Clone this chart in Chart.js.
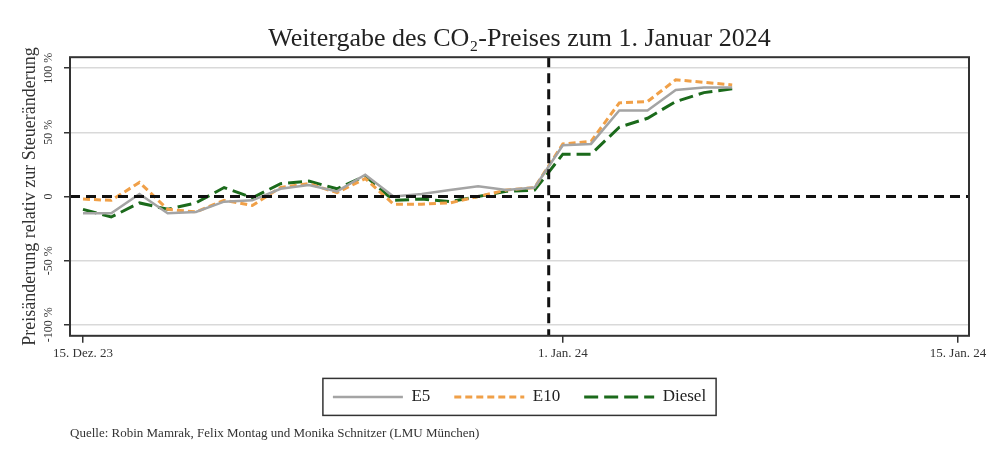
<!DOCTYPE html>
<html>
<head>
<meta charset="utf-8">
<script src="https://cdn.jsdelivr.net/npm/chart.js@4"></script>
<style>
  html, body { margin: 0; padding: 0; background: #fff; }
  #wrap { width: 990px; height: 464px; }
</style>
</head>
<body>
<div id="wrap"><canvas id="myChart"></canvas></div>
<script>
// days since 15 Dec 2023 (one point per day)
const days = ["15.12.", "16.12.", "17.12.", "18.12.", "19.12.", "20.12.", "21.12.", "22.12.",
  "23.12.", "24.12.", "25.12.", "26.12.", "27.12.", "28.12.", "29.12.", "30.12.", "31.12.",
  "01.01.", "02.01.", "03.01.", "04.01.", "05.01.", "06.01.", "07.01."];

const e5 = [-13, -13, 2, -13, -12, -4, -3, 6, 9, 4, 17, 0, 2, 5, 8, 5, 7, 40, 41, 67, 67, 83, 85, 85];
const e10 = [-2, -3, 11, -10, -12, -3, -7, 7, 10, 3, 14, -6, -6, -5, 0, 5, 7, 41, 43, 73, 74, 91, 89, 87];
const diesel = [-10, -16, -5, -10, -5, 7, -1, 10, 12, 6, 16, -3, -2, -4, 0, 4, 5, 33, 33, 54, 61, 74, 81, 84];

const xTickDays = [0, 17, 31];
const xTickLabels = ["15. Dez. 23", "1. Jan. 24", "15. Jan. 24"];
const yTickValues = [-100, -50, 0, 50, 100];
const yTickLabels = ["-100 %", "-50 %", "0", "50 %", "100 %"];

const changeDay = 16.5; // tax change between 31 Dec and 1 Jan
const zeroLine = 0;

const serif = "'Liberation Serif', 'DejaVu Serif', serif";

const toPoints = (arr) => arr.map((v, i) => ({ x: i, y: v }));

// reference lines + frame
const refLines = {
  id: "refLines",
  afterDatasetsDraw(chart) {
    const { ctx, chartArea, scales } = chart;
    ctx.save();
    ctx.strokeStyle = "#111";
    ctx.lineWidth = 3;
    ctx.setLineDash([10, 6]);
    const y0 = scales.y.getPixelForValue(zeroLine);
    ctx.beginPath();
    ctx.moveTo(chartArea.left, y0);
    ctx.lineTo(chartArea.right, y0);
    ctx.stroke();
    const xc = scales.x.getPixelForValue(changeDay);
    ctx.beginPath();
    ctx.moveTo(xc, chartArea.top);
    ctx.lineTo(xc, chartArea.bottom);
    ctx.stroke();
    ctx.restore();
  },
  afterDraw(chart) {
    const { ctx, chartArea } = chart;
    ctx.save();
    ctx.strokeStyle = "#333";
    ctx.lineWidth = 2;
    ctx.strokeRect(chartArea.left, chartArea.top, chartArea.right - chartArea.left, chartArea.bottom - chartArea.top);
    // box round the legend
    const boxes = chart.legend.legendHitBoxes;
    if (boxes && boxes.length) {
      const l = Math.min(...boxes.map((b) => b.left)) - 10;
      const r = Math.max(...boxes.map((b) => b.left + b.width)) + 10;
      const t = Math.min(...boxes.map((b) => b.top)) - 10;
      const bt = Math.max(...boxes.map((b) => b.top + b.height)) + 10;
      ctx.lineWidth = 1.5;
      ctx.strokeRect(l, t, r - l, bt - t);
    }
    ctx.restore();
  },
};

const ctx = document.getElementById("myChart");
new Chart(ctx, {
  type: "line",
  data: {
    datasets: [
      { label: "E5", data: toPoints(e5), borderColor: "#a4a4a4", borderWidth: 2.5 },
      { label: "E10", data: toPoints(e10), borderColor: "#f0a048", borderWidth: 3, borderDash: [7, 4] },
      { label: "Diesel", data: toPoints(diesel), borderColor: "#1b6a1b", borderWidth: 3, borderDash: [14, 6] },
    ],
  },
  options: {
    responsive: true,
    maintainAspectRatio: false,
    animation: false,
    layout: { padding: { top: 24, left: 0, right: 21, bottom: 23 } },
    elements: {
      point: { radius: 0, pointStyle: "line" },
      line: { tension: 0, fill: false },
    },
    scales: {
      x: {
        type: "linear",
        min: -0.46,
        max: 31.39,
        afterBuildTicks: (axis) => {
          axis.ticks = xTickDays.map((v) => ({ value: v }));
        },
        afterFit: (axis) => {
          axis.paddingLeft = 0;
          axis.paddingRight = 0;
        },
        ticks: {
          autoSkip: false,
          maxRotation: 0,
          padding: 3,
          color: "#333",
          font: { family: serif, size: 13 },
          callback: (v) => xTickLabels[xTickDays.indexOf(v)],
        },
        grid: { drawOnChartArea: false, tickLength: 7, tickColor: "#333", lineWidth: 1.5 },
        border: { display: false },
      },
      y: {
        min: -108.6,
        max: 108.6,
        afterBuildTicks: (axis) => {
          axis.ticks = yTickValues.map((v) => ({ value: v }));
        },
        afterFit: (axis) => {
          axis.width = 70;
          axis.paddingTop = 0;
          axis.paddingBottom = 0;
        },
        ticks: {
          minRotation: 90,
          maxRotation: 90,
          crossAlign: "center",
          padding: -2,
          color: "#333",
          font: { family: serif, size: 12 },
          callback: (v) => yTickLabels[yTickValues.indexOf(v)],
        },
        grid: {
          color: (c) => (c.tick && c.tick.value === 0 ? "rgba(0,0,0,0)" : "#d9d9d9"),
          lineWidth: 1.5,
          tickLength: 6,
          tickColor: "#333",
        },
        border: { display: false },
        title: {
          display: true,
          text: "Preisänderung relativ zur Steueränderung",
          color: "#333",
          font: { family: serif, size: 18 },
          padding: { top: 19, bottom: 0 },
        },
      },
    },
    plugins: {
      title: {
        display: true,
        fullSize: false,
        text: "Weitergabe des CO₂-Preises zum 1. Januar 2024",
        color: "#222",
        font: { family: serif, size: 26, weight: "normal" },
        padding: { top: 0, bottom: 2 },
      },
      subtitle: {
        display: true,
        position: "bottom",
        align: "start",
        fullSize: false,
        text: "Quelle: Robin Mamrak, Felix Montag und Monika Schnitzer (LMU München)",
        color: "#333",
        font: { family: serif, size: 13 },
        padding: { top: 10, bottom: 0 },
      },
      legend: {
        position: "bottom",
        fullSize: false,
        labels: {
          usePointStyle: true,
          pointStyleWidth: 70,
          boxHeight: 17,
          padding: 24,
          color: "#222",
          font: { family: serif, size: 17 },
          // point style legend ignores the line dash, take it from the dataset
          generateLabels: (chart) =>
            Chart.defaults.plugins.legend.labels.generateLabels(chart).map((item, i) => ({
              ...item,
              lineDash: chart.data.datasets[i].borderDash || [],
              lineWidth: chart.data.datasets[i].borderWidth,
            })),
        },
      },
      tooltip: { enabled: false },
    },
  },
  plugins: [refLines],
});
</script>
</body>
</html>
